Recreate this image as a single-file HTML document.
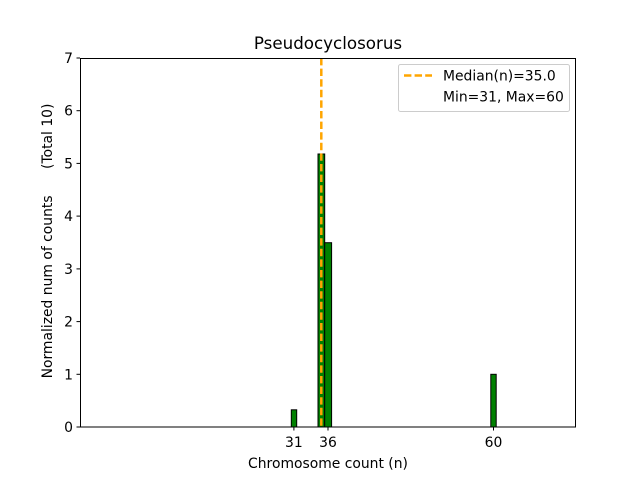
<!DOCTYPE html>
<html><head><style>body{margin:0;background:#fff}svg text{font-family:"DejaVu Sans","Liberation Sans",sans-serif;fill:#000;white-space:pre}</style></head>
<body>
<svg width="640" height="480" viewBox="0 0 640 480" xmlns="http://www.w3.org/2000/svg">
<rect width="640" height="480" fill="#fff"/>
<text x="328" y="49" font-size="16.7" text-anchor="middle">Pseudocyclosorus</text>
<g fill="#008000" stroke="#000" stroke-width="1">
<rect x="291.3" y="409.8" width="5.4" height="17.2"/>
<rect x="318" y="154" width="6.7" height="273"/>
<rect x="324.7" y="242.7" width="6.9" height="184.3"/>
<rect x="490.8" y="374.3" width="5.4" height="52.7"/>
</g>
<line x1="321.3" y1="58" x2="321.3" y2="427" stroke="#FFA500" stroke-width="2.5" stroke-dasharray="7.4,3.2"/>
<rect x="80.5" y="58.5" width="495" height="368.5" fill="none" stroke="#000" stroke-width="1"/>
<g stroke="#000" stroke-width="1">
<line x1="80" y1="427" x2="76.5" y2="427"/><line x1="80" y1="374.3" x2="76.5" y2="374.3"/><line x1="80" y1="321.6" x2="76.5" y2="321.6"/><line x1="80" y1="268.9" x2="76.5" y2="268.9"/><line x1="80" y1="216.1" x2="76.5" y2="216.1"/><line x1="80" y1="163.4" x2="76.5" y2="163.4"/><line x1="80" y1="110.7" x2="76.5" y2="110.7"/><line x1="80" y1="58" x2="76.5" y2="58"/>
<line x1="293.9" y1="427" x2="293.9" y2="430.5"/><line x1="328" y1="427" x2="328" y2="430.5"/><line x1="493.5" y1="427" x2="493.5" y2="430.5"/>
</g>
<g font-size="13.9" text-anchor="end">
<text x="73" y="432">0</text><text x="73" y="379.3">1</text><text x="73" y="326.6">2</text><text x="73" y="273.9">3</text><text x="73" y="221.1">4</text><text x="73" y="168.4">5</text><text x="73" y="115.7">6</text><text x="73" y="63">7</text>
</g>
<g font-size="13.9" text-anchor="middle">
<text x="293.9" y="447">31</text><text x="328" y="447">36</text><text x="493.5" y="447">60</text>
<text x="328" y="468">Chromosome count (n)</text>
</g>
<text transform="translate(52,241) rotate(-90)" font-size="13.9" text-anchor="middle" xml:space="preserve">Normalized num of counts      (Total 10)</text>
<rect x="398.5" y="64.5" width="171" height="47" rx="2" fill="#fff" stroke="#ccc"/>
<line x1="404" y1="75.5" x2="432" y2="75.5" stroke="#FFA500" stroke-width="2.5" stroke-dasharray="7.4,3.2"/>
<text x="443" y="80.5" font-size="13.9">Median(n)=35.0</text>
<text x="443" y="101.5" font-size="13.9">Min=31, Max=60</text>
</svg>
</body></html>
